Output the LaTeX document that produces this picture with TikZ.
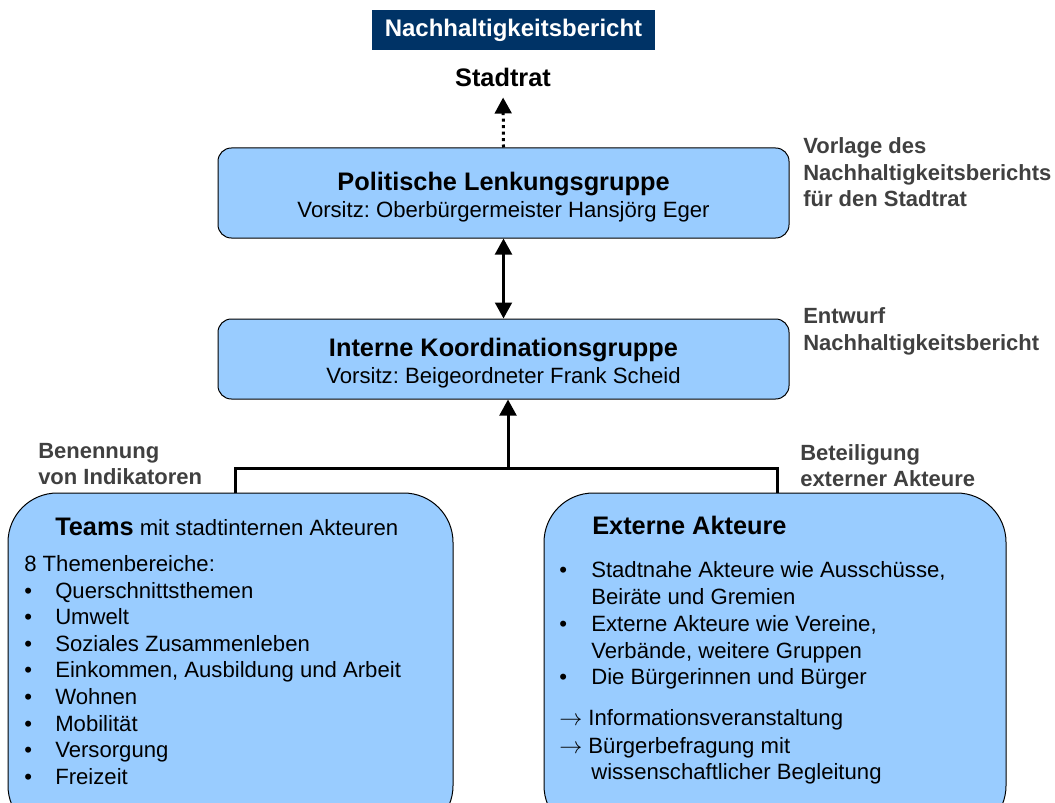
\documentclass[tikz,border=0pt]{standalone}
\usepackage{fontspec}
\setmainfont{Liberation Sans}
\usepackage{tikz}
\usetikzlibrary{arrows.meta}

\definecolor{boxblue}{HTML}{99CCFF}
\definecolor{navy}{HTML}{003366}
\definecolor{labelgray}{HTML}{404040}

\tikzset{
	box/.style={draw=black, line width=0.75pt, fill=boxblue, rounded corners=10pt, inner sep=0pt},
	bigbox/.style={box, rounded corners=37pt},
	titlebox/.style={fill=navy, text=white, inner sep=0pt, minimum width=212pt, minimum height=30pt, font=\fontsize{18}{21}\selectfont\bfseries},
	head/.style={inner sep=0pt, font=\fontsize{19}{22}\selectfont\bfseries},
	txt/.style={inner sep=0pt, anchor=base west, font=\fontsize{16.6}{20}\selectfont},
	side/.style={inner sep=0pt, anchor=base west, text=labelgray, font=\fontsize{16.5}{20}\selectfont\bfseries},
	arr/.style={line width=2.25pt, -{Triangle[width=12.5pt,length=12pt]}},
	dblarr/.style={line width=2.25pt, {Triangle[width=12.5pt,length=12pt]}-{Triangle[width=12.5pt,length=12pt]}},
}

\begin{document}
\frenchspacing
\begin{tikzpicture}[x=0.75pt,y=-0.75pt]
	\newcommand\dL{26.6}
	\newcommand\xT{55}
	\newcommand\xE{591}
	\useasboundingbox (0,0) rectangle (1055,802);

	% top
	\node[titlebox] (bericht) at (513.5,30) {Nachhaltigkeitsbericht};
	\node[head, anchor=base] (stadtrat) at (503,87) {Stadtrat};

	% groups
	\node[box, minimum width=428.25pt, minimum height=67.5pt] (lenkung) at (503.5,193) {};
	\node[head, anchor=base] at (503.5,191) {Politische Lenkungsgruppe};
	\node[txt, anchor=base] at (503.5,218) {Vorsitz: Oberbürgermeister Hansjörg Eger};

	\node[box, minimum width=428.25pt, minimum height=60pt] (koord) at (503.5,359) {};
	\node[head, anchor=base] at (503.5,356) {Interne Koordinationsgruppe};
	\node[txt, anchor=base] at (503.5,383) {Vorsitz: Beigeordneter Frank Scheid};

	\node[bigbox, minimum width=333.75pt, minimum height=256.5pt] (teams) at (230.5,664) {};
	\node[bigbox, minimum width=346.5pt, minimum height=256.5pt] (extern) at (775,664) {};

	% connectors
	\coordinate (junction) at (508,468);
	\draw[arr, dash pattern=on 2.25pt off 2.6pt, shorten >=7.5pt] (lenkung.north) -- (stadtrat.south);
	\draw[dblarr] (lenkung.south) -- (koord.north);
	\draw[line width=2.25pt] ([xshift=3.4pt]teams.north) |- (junction) -| ([xshift=2.2pt]extern.north);
	\draw[arr] (junction) -- (koord.south -| junction);

	% side labels
	\node[side] at (803,154) {Vorlage des};
	\node[side] at (803,181) {Nachhaltigkeitsberichts};
	\node[side] at (803,207) {für den Stadtrat};
	\node[side] at (803,323) {Entwurf};
	\node[side] at (803,350) {Nachhaltigkeitsbericht};
	\node[side] at (38,458) {Benennung};
	\node[side] at (38,484) {von Indikatoren};
	\node[side] at (800,460) {Beteiligung};
	\node[side] at (800,486) {externer Akteure};

	% teams
	\node[txt] at (\xT,535) {{\fontsize{19}{22}\selectfont\bfseries Teams} mit stadtinternen Akteuren};
	\node[txt] at (24,571) {8 Themenbereiche:};
	\foreach \t [count=\i] in {Querschnittsthemen, Umwelt, Soziales Zusammenleben, {Einkommen, Ausbildung und Arbeit}, Wohnen, Mobilität, Versorgung, Freizeit}{
		\node[txt] at (24,{598+(\i-1)*\dL}) {•};
		\node[txt] at (\xT,{598+(\i-1)*\dL}) {\t};
	}

	% externe
	\node[head, anchor=base west] at (592,534) {Externe Akteure};
	\node[txt] at (559,577) {•};
	\node[txt] at (\xE,577) {Stadtnahe Akteure wie Ausschüsse,};
	\node[txt] at (\xE,604) {Beiräte und Gremien};
	\node[txt] at (559,631) {•};
	\node[txt] at (\xE,631) {Externe Akteure wie Vereine,};
	\node[txt] at (\xE,658) {Verbände, weitere Gruppen};
	\node[txt] at (559,684) {•};
	\node[txt] at (\xE,684) {Die Bürgerinnen und Bürger};
	\node[txt] at (559,725) {$\rightarrow$ Informationsveranstaltung};
	\node[txt] at (559,753) {$\rightarrow$ Bürgerbefragung mit};
	\node[txt] at (\xE,779) {wissenschaftlicher Begleitung};
\end{tikzpicture}
\end{document}
